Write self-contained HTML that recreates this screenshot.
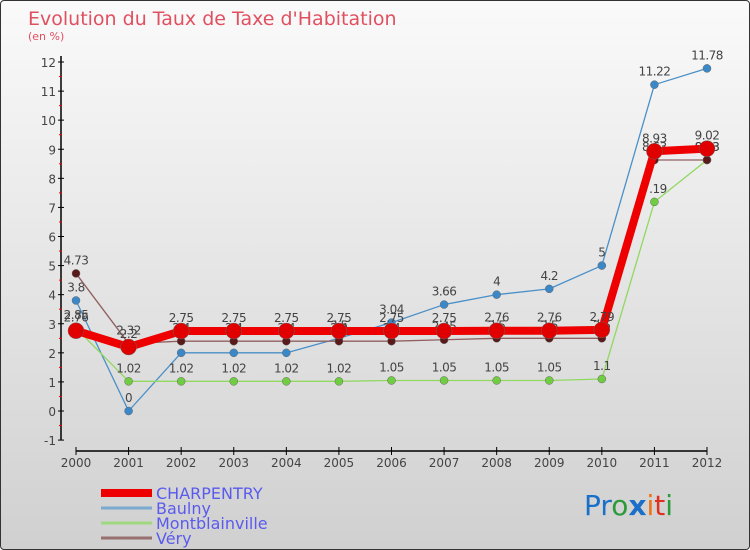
<!DOCTYPE html>
<html><head><meta charset="utf-8"><style>
body{margin:0;}
#c{width:750px;height:550px;position:relative;background:linear-gradient(#fafafa,#d0d0d0);box-sizing:border-box;border:1px solid #333;border-radius:4px;overflow:hidden;font-family:"DejaVu Sans","Liberation Sans",sans-serif;}
svg text{font-family:"DejaVu Sans","Liberation Sans",sans-serif;}
</style></head><body>
<div id="c">
<svg id="s" width="750" height="550">
<text x="27" y="24" font-size="19" fill="#e05060">Evolution du Taux de Taxe d'Habitation</text>
<text x="27" y="39" font-size="11" fill="#e05060">(en %)</text>
<g font-size="28" font-family="Liberation Sans,sans-serif">
<text x="583" y="514"><tspan fill="#1a70c8">Pr</tspan><tspan fill="#2a9a3a">o</tspan><tspan fill="#1a70c8" font-weight="bold">x</tspan><tspan fill="#f07010">i</tspan><tspan fill="#e03020">t</tspan><tspan fill="#2a9a3a">i</tspan></text>
</g>
</svg>
</div>
<script>
const years=["2000","2001","2002","2003","2004","2005","2006","2007","2008","2009","2010","2011","2012"];
const yTicks=[-1,0,1,2,3,4,5,6,7,8,9,10,11,12];
const charpentry=[2.76,2.2,2.75,2.75,2.75,2.75,2.75,2.75,2.76,2.76,2.79,8.93,9.02];
const baulny=[3.8,0,2,2,2,2.5,3.04,3.66,4,4.2,5,11.22,11.78];
const montblainville=[2.85,1.02,1.02,1.02,1.02,1.02,1.05,1.05,1.05,1.05,1.1,7.19,8.63];
const very=[4.73,2.32,2.4,2.4,2.4,2.4,2.4,2.45,2.5,2.5,2.5,8.63,8.63];
const seriesNames=["CHARPENTRY","Baulny","Montblainville","Véry"];
const NS="http://www.w3.org/2000/svg";
const svg=document.getElementById('s');
const X=i=>75+i*(706-75)/(years.length-1);
const Y=v=>410-v*(410-61)/12;
function mk(t,a,p){const e=document.createElementNS(NS,t);for(const k in a)e.setAttribute(k,a[k]);(p||svg).appendChild(e);return e;}
// axes
const ax=mk('g',{});


mk('line',{x1:60,y1:55,x2:60,y2:Y(-1),stroke:'#000','stroke-width':1.5},ax);
mk('line',{x1:X(0),y1:450,x2:X(12),y2:450,stroke:'#000','stroke-width':1.5},ax);
yTicks.forEach(v=>{
 mk('line',{x1:57,y1:Y(v),x2:63,y2:Y(v),stroke:'#000'},ax);
 if(v<12) mk('line',{x1:58,y1:Y(v+0.5),x2:61,y2:Y(v+0.5),stroke:'#e00'},ax);
 const t=mk('text',{x:55,y:Y(v)+5,'font-size':12,fill:'#444','text-anchor':'end'},ax);t.textContent=v;
 
 
});
years.forEach((y,i)=>{
 mk('line',{x1:X(i),y1:446,x2:X(i),y2:454,stroke:'#000'},ax);
 const t=mk('text',{x:X(i),y:466,'font-size':12,fill:'#444','text-anchor':'middle'},ax);t.textContent=y;
 
 
});
const defs=[[baulny,'#4a90c8','#3a88c8',1.3,4,'baulny'],[montblainville,'#90d860','#70cc40',1.3,4,'montblainville'],[very,'#906060','#5a1a1a',1.3,4,'very'],[charpentry,'#ee0000','#e00000',8,8,'charpentry']];
const order=[3,0,1,2];
defs.forEach(([d,lc,pc,w,r,n])=>{
 const g=mk('g',{});
 
 
 mk('polyline',{points:d.map((v,i)=>X(i)+','+Y(v)).join(' '),fill:'none',stroke:lc,'stroke-width':w,'stroke-linejoin':'round'},g);
 d.forEach((v,i)=>{
  const c=mk('circle',{cx:X(i),cy:Y(v),r:r,fill:pc,stroke:'#666','stroke-width':0.5},g);
  
  
  const t=mk('text',{x:X(i),y:Y(v)-9,'font-size':12,fill:'#444','text-anchor':'middle','letter-spacing':'-0.5'},g);t.textContent=v;
  
  
 });
});
// legend
const lg=mk('g',{});


const lcol=['#ee0000','#7aaad0','#a0d880','#987070'],lw=[8,3,3,3];
seriesNames.forEach((n,k)=>{
 const y=492+k*15;
 mk('line',{x1:100,y1:y,x2:151,y2:y,stroke:lcol[k],'stroke-width':lw[k]},lg);
 const t=mk('text',{x:155,y:y+6,'font-size':16,fill:'#5a5aee'},lg);t.textContent=n;
 
 
});
</script>
</body></html>
